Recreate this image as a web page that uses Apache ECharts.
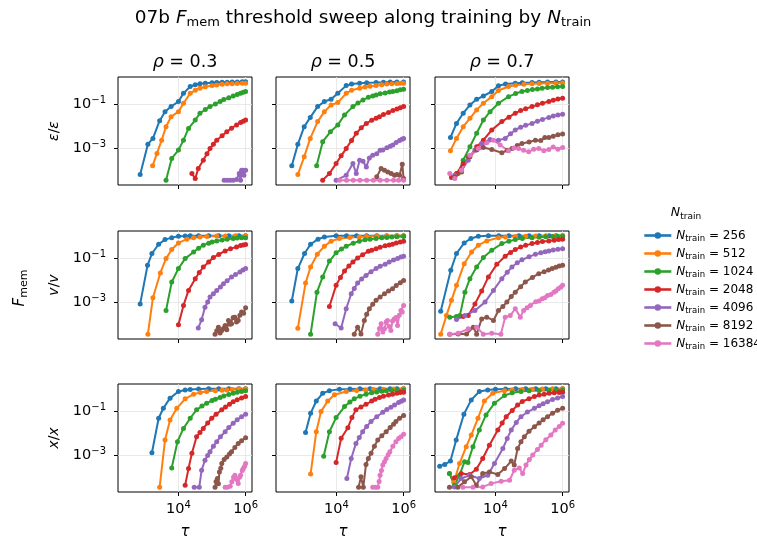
<!DOCTYPE html>
<html>
<head>
<meta charset="utf-8">
<script src="https://cdn.jsdelivr.net/npm/echarts@6/dist/echarts.min.js"></script>
<style>
html,body{margin:0;padding:0;background:#fff}
#main{width:757px;height:544px}
</style>
</head>
<body>
<div id="main"></div>
<script>
// legend / series names and colours
var nTrain = ['256', '512', '1024', '2048', '4096', '8192', '16384'];
var colors = ['#1f77b4', '#ff7f0e', '#2ca02c', '#d62728', '#9467bd', '#8c564b', '#e377c2'];
var rhoLabels = ['0.3', '0.5', '0.7'];
var rowLabels = ['{i|ε}{r|/}{i|ε}', '{i|v}{r|/}{i|v}', '{i|x}{r|/}{i|x}'];
var xTicks = [1e4, 1e6];
var yTicks = [1e-3, 1e-1];

// values, each point is [log10(tau), log10(ratio)]
// order inside a panel: N_train = 256, 512, 1024, 2048, 4096, 8192, 16384
var eps03 = [
  [[2.86,-4.2],[3.09,-2.82],[3.24,-2.56],[3.44,-1.76],[3.6,-1.35],[3.78,-1.12],[4.0,-0.89],[4.15,-0.52],[4.35,-0.21],[4.5,-0.13],[4.64,-0.09],[4.8,-0.06],[5.0,-0.04],[5.14,-0.03],[5.3,-0.02],[5.45,-0.02],[5.6,-0.01],[5.75,-0.01],[5.9,0],[6.0,0]],
  [[3.23,-3.8],[3.36,-3.24],[3.5,-2.64],[3.63,-2.03],[3.78,-1.58],[4.0,-1.35],[4.15,-0.97],[4.35,-0.52],[4.5,-0.38],[4.64,-0.29],[4.8,-0.22],[5.0,-0.17],[5.14,-0.14],[5.3,-0.11],[5.45,-0.09],[5.6,-0.08],[5.75,-0.07],[5.9,-0.06],[6.0,-0.06]],
  [[3.63,-4.45],[3.8,-3.47],[4.0,-3.09],[4.15,-2.64],[4.3,-2.11],[4.5,-1.73],[4.64,-1.42],[4.8,-1.25],[4.94,-1.12],[5.1,-1.0],[5.24,-0.89],[5.35,-0.8],[5.5,-0.72],[5.63,-0.64],[5.75,-0.57],[5.85,-0.52],[5.93,-0.47],[6.0,-0.44]],
  [[4.4,-4.15],[4.5,-4.38],[4.59,-3.92],[4.74,-3.55],[4.85,-3.25],[4.94,-3.02],[5.04,-2.82],[5.14,-2.64],[5.3,-2.44],[5.44,-2.26],[5.58,-2.1],[5.73,-1.95],[5.85,-1.84],[5.93,-1.78],[6.0,-1.73]],
  [[5.36,-4.45],[5.45,-4.45],[5.54,-4.45],[5.63,-4.45],[5.73,-4.42],[5.81,-4.15],[5.85,-4.45],[5.88,-4.0],[5.92,-4.0],[5.95,-4.23],[6.0,-4.0]],
  [],
  []
];
var eps05 = [
  [[2.67,-3.8],[2.85,-2.83],[3.04,-2.03],[3.22,-1.61],[3.44,-1.12],[3.64,-0.89],[3.84,-0.79],[4.04,-0.52],[4.29,-0.17],[4.45,-0.1],[4.69,-0.06],[4.9,-0.04],[5.18,-0.03],[5.4,-0.02],[5.6,-0.01],[5.8,-0.01],[6.0,-0.01]],
  [[2.85,-4.2],[3.04,-3.39],[3.22,-2.56],[3.44,-1.8],[3.64,-1.35],[3.84,-1.05],[4.04,-0.94],[4.29,-0.52],[4.45,-0.38],[4.69,-0.29],[4.85,-0.23],[5.0,-0.2],[5.18,-0.17],[5.35,-0.13],[5.5,-0.1],[5.65,-0.08],[5.8,-0.07],[5.9,-0.06],[6.0,-0.06]],
  [[3.41,-3.8],[3.59,-2.71],[3.82,-2.26],[4.04,-1.95],[4.24,-1.5],[4.49,-1.12],[4.64,-0.96],[4.79,-0.82],[4.95,-0.7],[5.08,-0.64],[5.18,-0.59],[5.3,-0.54],[5.45,-0.5],[5.58,-0.46],[5.68,-0.44],[5.8,-0.4],[5.9,-0.36],[6.0,-0.33]],
  [[3.59,-4.45],[3.79,-4.15],[3.99,-3.7],[4.14,-3.35],[4.29,-3.02],[4.45,-2.65],[4.59,-2.33],[4.74,-2.08],[4.89,-1.88],[5.05,-1.74],[5.18,-1.65],[5.28,-1.58],[5.4,-1.48],[5.55,-1.39],[5.68,-1.3],[5.8,-1.23],[5.9,-1.17],[6.0,-1.12]],
  [[3.99,-4.45],[4.29,-4.23],[4.49,-3.7],[4.59,-4.15],[4.69,-3.55],[4.79,-3.6],[4.89,-3.85],[4.98,-3.45],[5.08,-3.32],[5.2,-3.25],[5.3,-3.1],[5.38,-3.09],[5.5,-2.98],[5.6,-2.92],[5.68,-2.86],[5.78,-2.75],[5.88,-2.65],[5.95,-2.6],[6.0,-2.56]],
  [[5.2,-4.3],[5.33,-3.92],[5.43,-4.0],[5.53,-4.08],[5.63,-4.15],[5.73,-4.23],[5.8,-4.2],[5.88,-4.23],[5.96,-3.73],[6.0,-4.38]],
  [[4.09,-4.45],[4.3,-4.45],[4.5,-4.45],[4.7,-4.45],[4.9,-4.45],[5.1,-4.45],[5.3,-4.45],[5.5,-4.45],[5.7,-4.45],[5.85,-4.45],[6.0,-4.45]]
];
var eps07 = [
  [[2.66,-2.52],[2.84,-1.88],[3.04,-1.42],[3.24,-1.05],[3.44,-0.79],[3.64,-0.64],[3.89,-0.44],[4.09,-0.18],[4.3,-0.1],[4.59,-0.06],[4.8,-0.04],[5.09,-0.03],[5.3,-0.02],[5.55,-0.01],[5.8,-0.01],[6.0,-0.01]],
  [[2.66,-3.12],[2.84,-2.56],[3.04,-2.03],[3.24,-1.65],[3.44,-1.27],[3.64,-0.97],[3.89,-0.67],[4.09,-0.39],[4.39,-0.21],[4.6,-0.15],[4.85,-0.11],[5.09,-0.09],[5.3,-0.07],[5.55,-0.06],[5.8,-0.05],[6.0,-0.05]],
  [[2.89,-4.15],[3.04,-3.55],[3.24,-2.94],[3.44,-2.33],[3.64,-1.73],[3.84,-1.35],[4.09,-0.97],[4.39,-0.67],[4.6,-0.53],[4.79,-0.44],[4.95,-0.39],[5.1,-0.35],[5.25,-0.32],[5.39,-0.29],[5.55,-0.26],[5.7,-0.24],[5.85,-0.22],[6.0,-0.21]],
  [[2.69,-4.33],[2.84,-4.15],[3.04,-3.7],[3.24,-3.39],[3.44,-2.94],[3.64,-2.64],[3.89,-2.18],[4.19,-1.8],[4.4,-1.6],[4.59,-1.42],[4.75,-1.3],[4.9,-1.22],[5.09,-1.12],[5.25,-1.04],[5.4,-0.97],[5.59,-0.89],[5.72,-0.83],[5.86,-0.78],[6.0,-0.74]],
  [[2.79,-4.23],[2.99,-4.0],[3.19,-3.55],[3.39,-3.09],[3.59,-2.79],[3.84,-2.61],[4.09,-2.64],[4.29,-2.56],[4.45,-2.35],[4.59,-2.18],[4.75,-2.05],[4.9,-1.97],[5.09,-1.88],[5.25,-1.78],[5.4,-1.7],[5.59,-1.61],[5.72,-1.55],[5.86,-1.5],[6.0,-1.47]],
  [[2.79,-4.3],[2.99,-4.08],[3.19,-3.39],[3.44,-3.09],[3.64,-2.97],[3.89,-3.06],[4.19,-3.21],[4.35,-3.1],[4.49,-3.02],[4.65,-2.88],[4.79,-2.79],[5.0,-2.72],[5.19,-2.64],[5.35,-2.66],[5.47,-2.52],[5.59,-2.52],[5.72,-2.46],[5.86,-2.4],[6.0,-2.36]],
  [[2.64,-4.15],[2.79,-4.38],[2.99,-4.0],[3.24,-3.32],[3.49,-3.02],[3.74,-2.76],[3.94,-2.64],[4.14,-2.86],[4.39,-3.12],[4.55,-3.0],[4.69,-3.02],[4.84,-3.1],[4.99,-3.17],[5.14,-3.05],[5.29,-3.02],[5.44,-3.12],[5.59,-3.06],[5.72,-2.95],[5.86,-3.05],[6.0,-2.97]]
];
var v03 = [
  [[2.86,-3.08],[3.08,-1.33],[3.21,-0.8],[3.41,-0.38],[3.6,-0.17],[3.8,-0.08],[4.0,-0.02],[4.2,-0.01],[4.35,0],[4.6,0],[4.9,0],[5.2,0],[5.5,0],[5.8,0],[6.0,0]],
  [[3.09,-4.45],[3.24,-2.8],[3.46,-1.68],[3.63,-1.03],[3.8,-0.62],[4.0,-0.32],[4.25,-0.15],[4.45,-0.09],[4.64,-0.05],[4.85,-0.03],[5.14,-0.01],[5.4,-0.01],[5.7,0],[6.0,0]],
  [[3.63,-3.38],[3.8,-2.09],[4.0,-1.48],[4.2,-1.03],[4.45,-0.73],[4.6,-0.56],[4.74,-0.42],[4.9,-0.33],[5.0,-0.28],[5.14,-0.23],[5.3,-0.19],[5.45,-0.15],[5.63,-0.12],[5.75,-0.1],[5.88,-0.09],[6.0,-0.08]],
  [[4.0,-4.02],[4.15,-3.15],[4.3,-2.47],[4.5,-1.94],[4.62,-1.66],[4.74,-1.41],[4.9,-1.18],[5.04,-0.98],[5.2,-0.84],[5.39,-0.68],[5.55,-0.58],[5.73,-0.5],[5.85,-0.44],[5.93,-0.41],[6.0,-0.39]],
  [[4.59,-4.17],[4.69,-3.8],[4.79,-3.23],[4.87,-3.0],[4.94,-2.77],[5.04,-2.62],[5.14,-2.47],[5.25,-2.32],[5.34,-2.17],[5.45,-2.03],[5.58,-1.86],[5.7,-1.75],[5.83,-1.64],[5.92,-1.55],[6.0,-1.48]],
  [[5.09,-4.45],[5.14,-4.3],[5.19,-4.14],[5.24,-4.4],[5.29,-4.29],[5.34,-4.2],[5.39,-4.06],[5.44,-4.25],[5.49,-3.83],[5.54,-4.0],[5.58,-3.98],[5.63,-3.7],[5.68,-3.68],[5.73,-3.9],[5.78,-3.83],[5.83,-3.6],[5.88,-3.45],[5.94,-3.5],[6.0,-3.26]],
  []
];
var v05 = [
  [[2.67,-2.95],[2.85,-1.48],[3.05,-0.8],[3.23,-0.38],[3.45,-0.15],[3.64,-0.05],[3.99,0],[4.3,0],[4.6,0],[4.9,0],[5.2,0],[5.5,0],[5.8,0],[6.0,0]],
  [[2.85,-4.18],[3.08,-2.14],[3.23,-1.41],[3.43,-0.83],[3.64,-0.47],[3.84,-0.24],[4.09,-0.12],[4.4,-0.07],[4.68,-0.05],[4.9,-0.03],[5.2,-0.02],[5.5,-0.01],[5.8,0],[6.0,0]],
  [[3.23,-4.45],[3.42,-2.55],[3.59,-1.86],[3.79,-1.14],[3.99,-0.77],[4.15,-0.6],[4.29,-0.47],[4.5,-0.33],[4.68,-0.24],[4.85,-0.18],[5.0,-0.15],[5.18,-0.12],[5.35,-0.09],[5.5,-0.07],[5.65,-0.05],[5.8,-0.04],[6.0,-0.03]],
  [[3.79,-3.2],[3.99,-2.24],[4.12,-1.88],[4.24,-1.59],[4.37,-1.37],[4.49,-1.18],[4.63,-1.0],[4.78,-0.85],[4.95,-0.7],[5.05,-0.65],[5.18,-0.58],[5.3,-0.52],[5.45,-0.45],[5.57,-0.41],[5.67,-0.38],[5.78,-0.32],[5.9,-0.28],[6.0,-0.24]],
  [[3.96,-3.98],[4.14,-4.17],[4.29,-3.3],[4.44,-2.62],[4.53,-2.38],[4.63,-2.14],[4.75,-1.95],[4.88,-1.79],[5.03,-1.62],[5.18,-1.48],[5.3,-1.38],[5.45,-1.28],[5.57,-1.18],[5.7,-1.09],[5.82,-1.02],[5.92,-0.96],[6.0,-0.92]],
  [[4.53,-4.45],[4.63,-4.14],[4.73,-4.44],[4.83,-3.83],[4.9,-3.55],[4.98,-3.3],[5.08,-3.1],[5.18,-2.92],[5.3,-2.77],[5.43,-2.62],[5.55,-2.5],[5.67,-2.39],[5.78,-2.25],[5.9,-2.12],[6.0,-2.02]],
  [[5.23,-4.45],[5.28,-4.2],[5.33,-3.98],[5.38,-4.35],[5.43,-4.21],[5.48,-3.9],[5.52,-3.83],[5.57,-4.1],[5.62,-4.29],[5.67,-3.85],[5.72,-3.76],[5.77,-3.7],[5.82,-4.06],[5.87,-3.6],[5.92,-3.38],[5.96,-3.45],[6.0,-3.15]]
];
var v07 = [
  [[2.37,-3.41],[2.67,-1.56],[2.84,-0.8],[3.07,-0.32],[3.27,-0.12],[3.49,-0.02],[3.79,0],[4.1,0],[4.4,0],[4.7,0],[5.0,0],[5.3,0],[5.6,0],[5.8,0],[6.0,0]],
  [[2.37,-4.45],[2.54,-3.61],[2.69,-2.92],[2.84,-2.24],[3.07,-1.26],[3.29,-0.73],[3.49,-0.42],[3.74,-0.23],[4.09,-0.08],[4.3,-0.05],[4.6,-0.03],[4.9,-0.02],[5.2,-0.01],[5.5,0],[5.8,0],[6.0,0]],
  [[2.64,-3.68],[2.84,-3.65],[2.94,-3.61],[3.09,-2.55],[3.24,-1.94],[3.44,-1.41],[3.64,-0.98],[3.89,-0.65],[4.19,-0.35],[4.4,-0.24],[4.59,-0.17],[4.8,-0.12],[5.09,-0.08],[5.3,-0.06],[5.5,-0.04],[5.7,-0.03],[5.85,-0.02],[6.0,-0.02]],
  [[3.04,-3.65],[3.19,-3.61],[3.39,-3.08],[3.59,-2.5],[3.79,-1.86],[4.04,-1.29],[4.29,-0.92],[4.45,-0.75],[4.59,-0.62],[4.75,-0.5],[4.9,-0.43],[5.09,-0.35],[5.25,-0.3],[5.4,-0.26],[5.59,-0.23],[5.75,-0.2],[5.88,-0.17],[6.0,-0.15]],
  [[2.84,-3.79],[3.09,-3.61],[3.39,-3.38],[3.69,-3.0],[3.94,-2.47],[4.19,-1.94],[4.35,-1.65],[4.49,-1.41],[4.65,-1.22],[4.79,-1.08],[5.0,-0.95],[5.19,-0.83],[5.35,-0.77],[5.48,-0.72],[5.59,-0.68],[5.72,-0.64],[5.86,-0.61],[6.0,-0.58]],
  [[2.64,-4.45],[2.89,-4.44],[3.14,-4.44],[3.34,-4.14],[3.44,-4.45],[3.59,-3.76],[3.74,-3.68],[3.94,-3.83],[4.09,-3.38],[4.22,-3.2],[4.34,-3.0],[4.47,-2.75],[4.59,-2.55],[4.75,-2.3],[4.89,-2.09],[5.1,-1.88],[5.29,-1.71],[5.45,-1.62],[5.58,-1.55],[5.69,-1.48],[5.8,-1.42],[5.9,-1.37],[6.0,-1.33]],
  [[2.64,-4.45],[2.89,-4.41],[3.19,-4.21],[3.44,-4.14],[3.64,-4.45],[3.89,-4.41],[4.16,-4.45],[4.29,-3.68],[4.44,-3.61],[4.59,-3.3],[4.74,-3.68],[4.84,-3.38],[4.94,-3.25],[5.04,-3.15],[5.2,-2.98],[5.3,-2.95],[5.39,-2.85],[5.47,-2.8],[5.55,-2.7],[5.65,-2.66],[5.74,-2.55],[5.8,-2.5],[5.87,-2.4],[5.94,-2.33],[6.0,-2.24]]
];
var x03 = [
  [[3.21,-2.89],[3.41,-1.33],[3.55,-0.88],[3.75,-0.42],[4.0,-0.12],[4.2,-0.05],[4.35,-0.03],[4.6,-0.01],[4.9,0],[5.2,0],[5.5,0],[5.8,0],[6.0,0]],
  [[3.44,-4.45],[3.6,-2.32],[3.75,-1.41],[3.95,-0.88],[4.2,-0.45],[4.45,-0.24],[4.65,-0.16],[4.84,-0.12],[5.1,-0.08],[5.3,-0.06],[5.44,-0.05],[5.6,-0.03],[5.8,-0.01],[6.0,0]],
  [[3.8,-3.58],[3.97,-2.39],[4.15,-1.79],[4.35,-1.33],[4.54,-0.95],[4.7,-0.78],[4.84,-0.65],[5.0,-0.53],[5.1,-0.47],[5.24,-0.39],[5.35,-0.32],[5.5,-0.25],[5.63,-0.2],[5.75,-0.15],[5.88,-0.12],[6.0,-0.09]],
  [[4.2,-4.36],[4.3,-3.61],[4.4,-2.92],[4.54,-2.17],[4.64,-1.98],[4.74,-1.79],[4.87,-1.55],[4.99,-1.33],[5.12,-1.15],[5.29,-0.95],[5.4,-0.82],[5.52,-0.7],[5.63,-0.58],[5.75,-0.49],[5.88,-0.41],[6.0,-0.35]],
  [[4.47,-4.45],[4.62,-4.45],[4.69,-3.68],[4.79,-3.23],[4.87,-3.02],[4.94,-2.85],[5.04,-2.6],[5.14,-2.39],[5.25,-2.17],[5.39,-1.94],[5.5,-1.75],[5.63,-1.56],[5.75,-1.4],[5.88,-1.26],[6.0,-1.15]],
  [[5.09,-4.45],[5.12,-4.2],[5.16,-4.06],[5.19,-4.3],[5.22,-3.76],[5.26,-3.6],[5.29,-3.38],[5.36,-3.2],[5.44,-3.08],[5.52,-2.95],[5.58,-2.85],[5.68,-2.65],[5.78,-2.47],[5.88,-2.35],[6.0,-2.21]],
  [[5.39,-4.45],[5.46,-4.45],[5.54,-4.41],[5.59,-4.21],[5.64,-4.0],[5.68,-3.91],[5.73,-4.1],[5.78,-4.29],[5.82,-4.0],[5.85,-3.91],[5.9,-3.7],[5.93,-3.61],[5.97,-3.5],[6.0,-3.38]]
];
var x05 = [
  [[3.08,-1.98],[3.23,-1.11],[3.4,-0.55],[3.59,-0.2],[3.79,-0.08],[4.09,-0.02],[4.4,-0.01],[4.7,0],[5.0,0],[5.3,0],[5.6,0],[5.8,0],[6.0,0]],
  [[3.23,-3.86],[3.4,-1.94],[3.54,-1.03],[3.74,-0.55],[3.94,-0.27],[4.29,-0.12],[4.6,-0.07],[4.88,-0.05],[5.1,-0.03],[5.4,-0.02],[5.7,-0.01],[6.0,0]],
  [[3.62,-3.05],[3.79,-1.94],[3.99,-1.3],[4.24,-0.8],[4.4,-0.6],[4.53,-0.45],[4.7,-0.33],[4.88,-0.24],[5.05,-0.18],[5.2,-0.14],[5.35,-0.11],[5.48,-0.09],[5.65,-0.07],[5.8,-0.06],[6.0,-0.05]],
  [[3.99,-3.33],[4.14,-2.24],[4.34,-1.76],[4.46,-1.3],[4.58,-0.95],[4.73,-0.82],[4.88,-0.7],[5.05,-0.55],[5.15,-0.47],[5.28,-0.39],[5.4,-0.33],[5.55,-0.28],[5.67,-0.24],[5.8,-0.2],[5.9,-0.17],[6.0,-0.15]],
  [[4.31,-4.06],[4.44,-3.15],[4.58,-2.47],[4.68,-2.2],[4.78,-1.94],[4.9,-1.7],[5.03,-1.48],[5.2,-1.26],[5.38,-1.06],[5.5,-0.94],[5.62,-0.83],[5.73,-0.73],[5.85,-0.62],[5.93,-0.56],[6.0,-0.5]],
  [[4.66,-4.45],[4.73,-3.98],[4.8,-4.45],[4.88,-3.42],[4.95,-3.15],[5.03,-2.92],[5.13,-2.6],[5.23,-2.32],[5.35,-2.12],[5.48,-1.94],[5.6,-1.75],[5.7,-1.6],[5.77,-1.48],[5.88,-1.33],[6.0,-1.21]],
  [[5.08,-4.45],[5.16,-4.45],[5.23,-4.45],[5.27,-4.2],[5.3,-3.91],[5.34,-3.7],[5.38,-3.45],[5.43,-3.3],[5.48,-3.15],[5.54,-2.98],[5.59,-2.85],[5.68,-2.6],[5.77,-2.39],[5.85,-2.25],[5.92,-2.17],[6.0,-2.06]]
];
var x07 = [
  [[2.34,-3.5],[2.49,-3.42],[2.66,-3.27],[2.83,-2.32],[3.06,-1.15],[3.28,-0.5],[3.52,-0.12],[3.77,-0.05],[4.0,-0.02],[4.3,-0.01],[4.6,0],[4.9,0],[5.2,0],[5.5,0],[5.8,0],[6.0,0]],
  [[2.63,-3.83],[2.76,-4.24],[2.93,-3.38],[3.13,-2.62],[3.28,-2.09],[3.48,-1.33],[3.67,-0.55],[3.92,-0.2],[4.27,-0.08],[4.5,-0.05],[4.8,-0.03],[5.1,-0.02],[5.4,-0.01],[5.7,0],[6.0,0]],
  [[2.63,-3.83],[2.78,-4.36],[2.93,-3.91],[3.08,-3.3],[3.18,-3.33],[3.33,-2.62],[3.52,-1.86],[3.72,-1.18],[3.97,-0.65],[4.27,-0.3],[4.5,-0.18],[4.76,-0.12],[5.0,-0.09],[5.3,-0.07],[5.6,-0.06],[5.8,-0.05],[6.0,-0.05]],
  [[2.78,-4.03],[2.98,-3.83],[3.23,-3.88],[3.43,-3.64],[3.62,-3.15],[3.82,-2.55],[4.07,-1.86],[4.2,-1.55],[4.32,-1.26],[4.5,-0.98],[4.66,-0.73],[4.8,-0.57],[5.0,-0.45],[5.16,-0.35],[5.3,-0.28],[5.45,-0.24],[5.6,-0.2],[5.75,-0.18],[5.9,-0.16],[6.0,-0.15]],
  [[2.78,-4.44],[2.98,-4.06],[3.23,-3.91],[3.52,-4.06],[3.77,-3.91],[3.97,-3.38],[4.22,-2.7],[4.35,-2.25],[4.47,-1.86],[4.62,-1.52],[4.76,-1.26],[4.95,-1.05],[5.16,-0.88],[5.3,-0.76],[5.42,-0.67],[5.55,-0.58],[5.7,-0.48],[5.85,-0.41],[6.0,-0.35]],
  [[2.63,-4.45],[2.88,-4.45],[3.08,-4.21],[3.28,-3.98],[3.43,-4.36],[3.62,-3.83],[3.82,-3.76],[4.07,-3.88],[4.27,-3.61],[4.47,-3.27],[4.56,-3.45],[4.66,-2.7],[4.76,-2.4],[4.86,-2.17],[5.0,-1.92],[5.16,-1.71],[5.3,-1.55],[5.42,-1.4],[5.55,-1.26],[5.7,-1.1],[5.85,-0.97],[6.0,-0.88]],
  [[3.03,-4.45],[3.33,-4.45],[3.62,-4.44],[3.87,-4.29],[4.17,-4.18],[4.42,-4.14],[4.56,-3.68],[4.71,-3.58],[4.81,-3.83],[4.91,-3.45],[5.01,-3.2],[5.11,-3.0],[5.25,-2.75],[5.36,-2.55],[5.5,-2.3],[5.65,-2.09],[5.78,-1.86],[5.9,-1.7],[6.0,-1.56]]
];

var panels = [eps03, eps05, eps07, v03, v05, v07, x03, x05, x07];

var font = 'DejaVu Sans';
var gridLeft = [118, 276, 435];
var gridTop = [77, 231, 384];
var panelW = 134, panelH = 108;

var labelRich = {
  b: { fontSize: 14.5, fontFamily: font, color: '#000', lineHeight: 18 },
  p: { fontSize: 10, fontFamily: font, color: '#000', lineHeight: 9, verticalAlign: 'top' }
};

function powLabel(v) {
  var e = Math.round(Math.log10(v));
  return '{b|10}{p|' + (e < 0 ? '\u2212' + (-e) : e) + '}';
}

var grids = [], xAxes = [], yAxes = [], series = [];
for (var r = 0; r < 3; r++) {
  for (var c = 0; c < 3; c++) {
    var k = r * 3 + c;
    grids.push({
      left: gridLeft[c], top: gridTop[r], width: panelW, height: panelH,
      show: true, borderColor: '#000', borderWidth: 1, backgroundColor: 'transparent'
    });
    xAxes.push({
      type: 'log', gridIndex: k,
      min: Math.pow(10, 2.2), max: Math.pow(10, 6.19),
      axisLine: { show: false },
      axisTick: { show: true, customValues: xTicks, length: 4, lineStyle: { color: '#000', width: 1 } },
      axisLabel: { show: r === 2, customValues: xTicks, formatter: powLabel, rich: labelRich, margin: 8 },
      splitLine: { show: true, lineStyle: { color: '#e3e3e3', width: 0.8 } },
      minorTick: { show: false }, minorSplitLine: { show: false }
    });
    yAxes.push({
      type: 'log', gridIndex: k,
      min: Math.pow(10, -4.67), max: Math.pow(10, 0.22),
      axisLine: { show: false },
      axisTick: { show: true, customValues: yTicks, length: 4, lineStyle: { color: '#000', width: 1 } },
      axisLabel: { show: c === 0, customValues: yTicks, formatter: powLabel, rich: labelRich, margin: 12 },
      splitLine: { show: true, lineStyle: { color: '#e3e3e3', width: 0.8 } },
      minorTick: { show: false }, minorSplitLine: { show: false }
    });
    var pdata = panels[k];
    for (var j = 0; j < nTrain.length; j++) {
      var pts = pdata[j] || [];
      series.push({
        name: nTrain[j], type: 'line', xAxisIndex: k, yAxisIndex: k,
        data: pts.map(function (p) { return [Math.pow(10, p[0]), Math.pow(10, p[1])]; }),
        symbol: 'circle', symbolSize: 5, showSymbol: true,
        lineStyle: { width: 2, color: colors[j] },
        itemStyle: { color: colors[j] },
        emphasis: { disabled: true },
        animation: false
      });
    }
  }
}

function mathRich(size) {
  return {
    i: { fontFamily: font, fontStyle: 'italic', fontSize: size, fill: '#000', lineHeight: size + 4 },
    r: { fontFamily: font, fontSize: size, fill: '#000', lineHeight: size + 4 },
    s: { fontFamily: font, fontSize: Math.round(size * 0.7), fill: '#000', lineHeight: Math.round(size * 0.6), verticalAlign: 'bottom' }
  };
}

var graphics = [];
graphics.push({
  type: 'text', x: 363, y: 18,
  style: { text: '{r|07b }{i|F}{s|mem}{r| threshold sweep along training by }{i|N}{s|train}', rich: mathRich(18.5), align: 'center', verticalAlign: 'middle' }
});
for (var c2 = 0; c2 < 3; c2++) {
  graphics.push({
    type: 'text', x: gridLeft[c2] + panelW / 2, y: 62,
    style: { text: '{i|ρ}{r| = ' + rhoLabels[c2] + '}', rich: mathRich(17.5), align: 'center', verticalAlign: 'middle' }
  });
  graphics.push({
    type: 'text', x: gridLeft[c2] + panelW / 2, y: 532,
    style: { text: '{i|τ}', rich: mathRich(15), align: 'center', verticalAlign: 'middle' }
  });
}
for (var r2 = 0; r2 < 3; r2++) {
  graphics.push({
    type: 'text', x: 54, y: gridTop[r2] + panelH / 2, rotation: Math.PI / 2,
    style: { text: rowLabels[r2], rich: mathRich(14), align: 'center', verticalAlign: 'middle' }
  });
}
graphics.push({
  type: 'text', x: 20, y: 288, rotation: Math.PI / 2,
  style: { text: '{i|F}{s|mem}', rich: mathRich(15), align: 'center', verticalAlign: 'middle' }
});
graphics.push({
  type: 'text', x: 686, y: 213,
  style: { text: '{i|N}{s|train}', rich: mathRich(12.5), align: 'center', verticalAlign: 'middle' }
});

var myChart = echarts.init(document.getElementById('main'), null, { renderer: 'canvas' });
var option = {
  backgroundColor: '#fff',
  animation: false,
  color: colors,
  grid: grids,
  xAxis: xAxes,
  yAxis: yAxes,
  legend: {
    data: nTrain, orient: 'vertical', left: 638, top: 223,
    itemWidth: 27, itemHeight: 8, itemGap: 3,
    lineStyle: { width: 2.6 },
    textStyle: {
      fontFamily: font, fontSize: 12, color: '#000', lineHeight: 15,
      rich: {
        i: { fontFamily: font, fontStyle: 'italic', fontSize: 12, color: '#000', lineHeight: 15 },
        s: { fontFamily: font, fontSize: 8.5, color: '#000', lineHeight: 8, verticalAlign: 'bottom' }
      }
    },
    formatter: function (n) { return '{i|N}{s|train} = ' + n; }
  },
  graphic: graphics,
  series: series
};
myChart.setOption(option);
</script>
</body>
</html>
